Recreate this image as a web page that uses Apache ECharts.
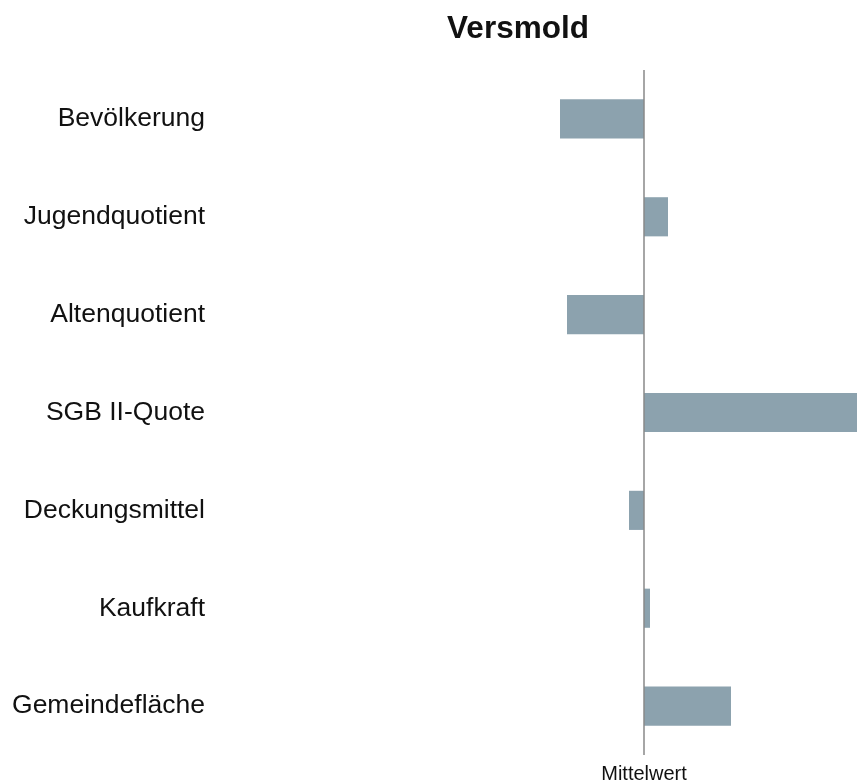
<!DOCTYPE html>
<html>
<head>
<meta charset="utf-8">
<script src="https://cdn.jsdelivr.net/npm/echarts@6/dist/echarts.min.js"></script>
<style>html,body{margin:0;padding:0;background:#fff}#c{width:857px;height:780px}</style>
</head>
<body>
<div id="c"></div>
<script>
const chartTitle = 'Versmold';
const categories = ['Bevölkerung','Jugendquotient','Altenquotient','SGB II-Quote','Deckungsmittel','Kaufkraft','Gemeindefläche'];
const values = [-8.4, 2.4, -7.7, 25, -1.5, 0.6, 8.7];
const meanLabel = 'Mittelwert';

const chart = echarts.init(document.getElementById('c'), null, {renderer:'canvas'});
chart.setOption({
  animation: false,
  title: {
    text: chartTitle, left: 513, top: 8, textAlign: 'center',
    textStyle: {fontFamily: 'Liberation Sans, Arial', fontSize: 31.5, fontWeight: 'bold', color: '#111'}
  },
  grid: {left: 215, right: 0, top: 70, bottom: 25, containLabel: false, outerBoundsMode: 'none'},
  xAxis: {
    type: 'value', min: -42.9, max: 21.3,
    axisLine: {show: false}, axisTick: {show: false}, splitLine: {show: false},
    axisLabel: {
      customValues: [0], margin: 9,
      formatter: () => meanLabel,
      fontFamily: 'Liberation Sans, Arial', fontSize: 20, color: '#111'
    }
  },
  yAxis: {
    type: 'category', data: categories, inverse: true,
    axisLine: {show: false}, axisTick: {show: false},
    axisLabel: {margin: 10, fontFamily: 'Liberation Sans, Arial', fontSize: 26.5, color: '#111'}
  },
  series: [{
    type: 'bar', data: values, barWidth: '40%', clip: true,
    itemStyle: {color: '#8ca2ae'},
    markLine: {
      silent: true, symbol: 'none', label: {show: false},
      lineStyle: {color: '#888', width: 1.5, type: 'solid'},
      data: [{xAxis: 0}]
    }
  }]
});
</script>
</body>
</html>
